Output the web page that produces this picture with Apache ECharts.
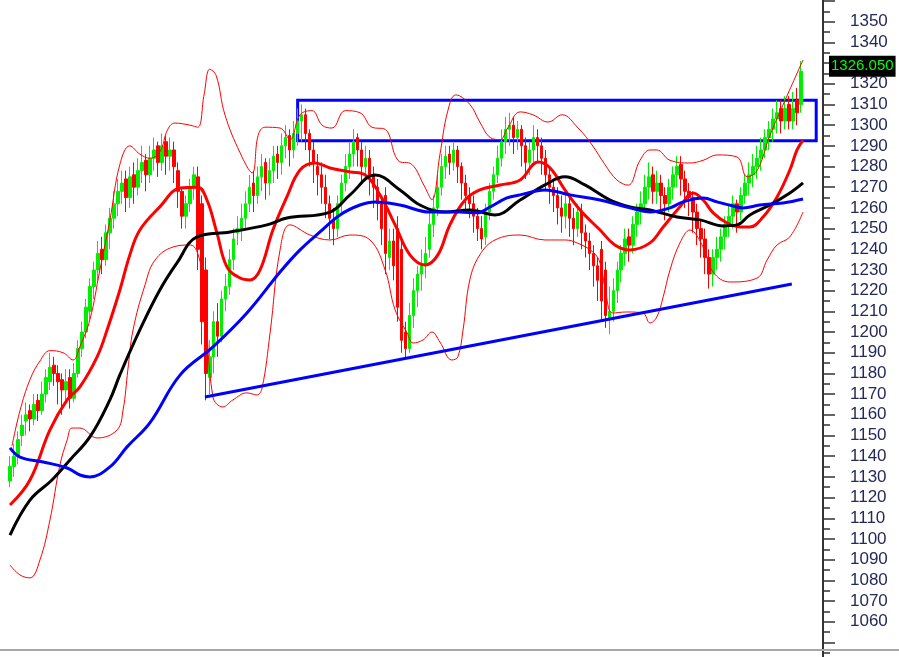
<!DOCTYPE html>
<html>
<head>
<meta charset="utf-8">
<script src="https://cdn.jsdelivr.net/npm/echarts@6/dist/echarts.min.js"></script>
<style>
html,body{margin:0;padding:0;background:#fff;overflow:hidden;width:899px;height:657px;}
#chart{position:absolute;left:0;top:-20px;width:899px;height:700px;}
</style>
</head>
<body>
<div id="chart"></div>
<script>
// ---- data ----
// candles: [open, close, low, high]
const candles = [
[1128,1135,1125,1140],[1135,1140,1130,1146],[1140,1148,1136,1152],[1150,1155,1145,1160],[1157,1160,1150,1166],
[1162,1158,1152,1165],[1158,1165,1155,1170],[1167,1162,1157,1170],[1162,1170,1160,1176],[1170,1178,1166,1182],
[1176,1183,1172,1190],[1184,1180,1174,1188],[1180,1176,1165,1184],[1177,1172,1160,1180],[1172,1176,1166,1182],
[1178,1168,1163,1182],[1168,1180,1166,1185],[1180,1192,1178,1196],[1192,1200,1188,1205],[1200,1212,1197,1216],
[1210,1222,1206,1226],[1222,1230,1216,1234],[1230,1238,1225,1244],[1240,1235,1228,1246],[1235,1248,1232,1252],
[1248,1255,1240,1260],[1255,1262,1250,1268],[1262,1268,1256,1274],[1268,1272,1262,1278],[1274,1265,1258,1278],
[1265,1275,1260,1280],[1276,1270,1262,1282],[1270,1278,1266,1284],[1278,1282,1272,1290],[1283,1276,1268,1286],
[1276,1284,1272,1290],[1284,1288,1278,1294],[1290,1282,1275,1292],[1282,1290,1278,1296],[1292,1285,1276,1295],
[1285,1288,1278,1294],[1288,1280,1272,1292],[1278,1268,1260,1282],[1268,1256,1250,1270],[1256,1262,1250,1266],
[1262,1270,1258,1274],[1270,1276,1264,1280],[1275,1240,1230,1280],[1262,1205,1194,1266],[1230,1180,1167,1236],
[1178,1188,1170,1196],[1188,1205,1180,1210],[1205,1198,1188,1214],[1198,1216,1195,1220],[1216,1222,1210,1228],
[1222,1235,1218,1240],[1235,1245,1230,1250],[1248,1250,1242,1256],[1250,1255,1244,1262],[1255,1262,1250,1268],
[1262,1270,1258,1276],[1272,1266,1258,1278],[1266,1275,1262,1280],[1275,1280,1268,1286],[1282,1272,1264,1284],
[1272,1278,1266,1284],[1278,1285,1272,1290],[1286,1282,1274,1290],[1282,1290,1276,1296],[1290,1294,1284,1300],
[1295,1288,1280,1298],[1288,1296,1284,1302],[1296,1302,1290,1308],[1302,1305,1292,1310],[1305,1296,1288,1308],
[1296,1288,1280,1298],[1288,1282,1272,1292],[1280,1276,1266,1286],[1276,1270,1262,1282],[1270,1262,1255,1276],
[1262,1255,1245,1266],[1254,1250,1242,1260],[1250,1262,1246,1266],[1262,1272,1258,1276],[1272,1280,1268,1286],
[1280,1286,1274,1292],[1286,1292,1280,1298],[1294,1288,1280,1296],[1288,1280,1272,1292],[1280,1284,1274,1290],
[1284,1276,1266,1288],[1276,1270,1260,1280],[1270,1262,1254,1274],[1262,1250,1242,1266],[1266,1238,1228,1270],
[1236,1244,1230,1250],[1244,1232,1225,1250],[1250,1212,1205,1256],[1240,1196,1190,1244],[1200,1192,1187,1205],
[1192,1208,1190,1214],[1208,1220,1202,1226],[1220,1228,1212,1232],[1228,1232,1220,1240],[1232,1238,1226,1246],
[1240,1252,1236,1258],[1252,1260,1246,1266],[1260,1270,1256,1276],[1270,1280,1266,1286],[1280,1285,1274,1290],
[1286,1282,1276,1290],[1282,1288,1278,1292],[1288,1280,1272,1290],[1280,1272,1264,1282],[1272,1266,1258,1276],
[1266,1262,1255,1270],[1262,1256,1248,1266],[1256,1250,1244,1260],[1250,1245,1240,1256],[1246,1258,1242,1262],
[1258,1268,1254,1272],[1268,1276,1264,1280],[1276,1284,1272,1290],[1284,1292,1280,1298],[1292,1298,1286,1304],
[1298,1300,1290,1306],[1300,1294,1286,1304],[1294,1298,1288,1302],[1298,1290,1280,1300],[1290,1282,1274,1294],
[1282,1288,1276,1292],[1288,1294,1282,1300],[1294,1290,1282,1298],[1290,1284,1276,1294],[1284,1276,1268,1288],
[1276,1270,1262,1280],[1270,1266,1258,1274],[1266,1260,1252,1270],[1260,1256,1248,1266],[1256,1262,1250,1268],
[1262,1255,1246,1266],[1255,1250,1242,1260],[1250,1258,1246,1262],[1258,1248,1240,1262],[1248,1244,1236,1252],
[1244,1238,1230,1248],[1238,1232,1222,1242],[1232,1225,1215,1236],[1240,1215,1205,1244],[1230,1208,1202,1234],
[1206,1210,1199,1222],[1210,1220,1205,1226],[1220,1230,1214,1234],[1230,1238,1224,1242],[1238,1245,1232,1250],
[1246,1242,1234,1250],[1242,1252,1238,1256],[1252,1258,1246,1262],[1258,1262,1252,1268],[1262,1270,1258,1276],
[1270,1275,1264,1282],[1276,1268,1262,1280],[1268,1272,1262,1278],[1272,1266,1258,1276],[1266,1262,1254,1270],
[1262,1270,1258,1274],[1270,1276,1264,1280],[1276,1280,1270,1285],[1281,1274,1266,1285],[1274,1268,1260,1278],
[1268,1265,1256,1272],[1265,1258,1248,1268],[1258,1250,1242,1262],[1250,1245,1236,1254],[1245,1236,1228,1250],
[1236,1228,1221,1240],[1228,1236,1222,1240],[1236,1240,1230,1246],[1240,1246,1234,1250],[1246,1252,1240,1256],
[1252,1256,1246,1262],[1256,1262,1250,1266],[1262,1258,1248,1264],[1258,1266,1254,1270],[1266,1272,1262,1276],
[1272,1276,1266,1282],[1276,1280,1270,1286],[1280,1284,1274,1290],[1284,1288,1278,1294],[1288,1294,1284,1298],
[1294,1298,1288,1302],[1298,1303,1292,1308],[1303,1306,1296,1312],[1308,1302,1296,1312],[1302,1308,1298,1314],
[1310,1302,1298,1314],[1302,1308,1298,1316],[1312,1306,1300,1318],[1310,1326,1306,1331]
];
const slotCount = 204; // bar slots on the time axis (last few empty)
const categories = Array.from({length: slotCount}, (_, i) => String(i));

// moving averages: [bar index, value]
const maFast = [[0,1116.4],[5,1128.5],[10,1152.7],[14.3,1167.2],[17.5,1173.5],[21.8,1188],[24.3,1201],[27.5,1220.3],[30,1237.3],[32.5,1249.3],[37.5,1260.5],[42.6,1269.6],[47,1270],[49.3,1263.8],[51.8,1247.9],[54.3,1231.5],[57.6,1226.1],[60.1,1225.2],[62.6,1230],[65.8,1249.3],[69.3,1265.3],[72.6,1278.3],[76.3,1281.7],[80.1,1279.3],[85.1,1277.4],[88.9,1275.9],[92.6,1266.3],[96.4,1251.8],[100.1,1237.3],[103.9,1232.4],[107.1,1237.3],[110.1,1251.8],[113.9,1263.8],[117.6,1268.7],[122.7,1271.1],[127.7,1273.5],[132.2,1282.2],[135.2,1279.3],[138.9,1268.7],[142.7,1259],[147.7,1249.3],[151.4,1242.1],[155.2,1239.7],[160.2,1243.1],[163.5,1250.8],[167.7,1260.5],[171,1267.2],[173.5,1263.8],[176,1257.6],[179.5,1252.7],[182.7,1250.8],[185.2,1250.8],[188.5,1255.6],[192,1265.3],[195.2,1278.3],[197,1288],[198.5,1292.8]];
const maMid = [[0,1101.9],[5,1118.8],[10.5,1128.5],[15,1138.2],[20,1149.3],[25,1167.2],[27.5,1179.3],[32.5,1201],[37.5,1220.3],[41.8,1233.4],[46.8,1246],[55.1,1248.4],[64.3,1251.8],[69.3,1255.1],[80.1,1258],[85.1,1266.3],[91.4,1275.9],[97.6,1268.7],[102.6,1261.4],[108.9,1258],[115.1,1259],[121.4,1256.6],[127.7,1263.8],[133.9,1271.1],[138.9,1275],[143.9,1271.1],[150.2,1263.8],[155.2,1260.5],[160.2,1259],[167,1255.6],[172.7,1254.2],[178.5,1251.3],[182,1251.8],[185.2,1256.6],[190.2,1261.4],[195.2,1267.2],[198.5,1272.1]];
const maSlow = [[0,1144],[2.5,1139.6],[8.3,1137.2],[14.3,1134.3],[17.5,1130.9],[20,1130],[25,1134.8],[29.3,1144.5],[35,1156.1],[42.6,1179.3],[50.8,1192.8],[59.3,1209.2],[67.6,1229],[72.6,1239.7],[77.6,1248.4],[82.6,1256.6],[87.6,1261.4],[91.4,1262.9],[97.6,1261.4],[105.1,1258],[112.6,1258],[116.9,1257.6],[120.2,1260.5],[124.4,1264.8],[127.7,1266.3],[133.9,1268.7],[140.2,1266.3],[147.7,1263.8],[155.2,1260],[160.2,1258],[165.2,1260],[168.5,1262.9],[173.5,1264.8],[177,1262.9],[181,1260.9],[183.5,1260],[187.7,1261.4],[193.5,1262.4],[198.5,1264.3]];
const bandUpper = [[0.5,1145],[2.5,1162],[5,1177],[7.5,1186],[10,1191],[13.3,1190],[15.8,1186.5],[17.5,1193],[20,1206],[22.5,1230],[25,1254],[27.5,1281],[30,1290],[32.5,1286],[35,1284],[37.5,1287],[39.5,1298],[41.3,1301],[45,1300],[47,1299],[48.6,1315],[50,1327],[51.6,1324],[53.8,1305],[57.6,1286.6],[60.6,1277],[62.1,1295],[63.8,1299],[67.6,1298.6],[70.1,1293],[72.6,1305],[75.6,1307],[78.1,1300],[80.6,1298.6],[83.9,1307],[87.6,1306],[90.6,1299],[93.9,1298],[97.1,1283],[100.6,1281],[103.6,1271],[105.6,1264],[107.6,1285.6],[109.6,1307],[111.6,1314.6],[115.1,1310],[117.6,1301.5],[120.2,1294],[122.7,1293],[124.4,1298],[127.7,1306.4],[130.9,1305],[134.7,1301.5],[138.2,1305],[142.2,1298.6],[145.7,1290.4],[148.9,1281],[151.9,1273.5],[154.7,1271],[157.7,1283],[160.2,1288],[161.9,1288],[165.2,1283],[170.2,1281.7],[173.5,1283],[177,1285.6],[182,1284.6],[184.5,1275],[187,1278],[190.2,1295],[194,1312],[198.5,1331.5]];
const bandLower = [[0,1087.4],[2.5,1082.6],[5,1081.2],[7.5,1089.9],[10,1109.2],[12.5,1135.8],[14.3,1147.8],[15.5,1153.6],[17.5,1153.6],[21.8,1148.8],[26.8,1152.7],[28.3,1162.3],[29.5,1181.7],[30.8,1201],[33.8,1222.8],[36.3,1234.8],[40.8,1241.1],[45.1,1242.1],[47.6,1233.9],[48.8,1215.5],[50.8,1168.6],[53.3,1163.8],[55.8,1167.2],[59.3,1170.6],[61.8,1169.6],[63.1,1173],[65.1,1199.6],[67.6,1239.7],[70.1,1251.8],[75.1,1246.9],[80.1,1244.5],[85.1,1246.9],[90.1,1244.5],[93.9,1230],[96.4,1210.7],[99.4,1199.6],[100.9,1194.7],[103.4,1196.2],[105.6,1200],[107.6,1195.2],[110.6,1186.5],[112.1,1188],[113.4,1201],[115.1,1225.2],[117.6,1237.3],[121.4,1244.5],[127.7,1246.9],[133.9,1244.5],[138.9,1244.5],[141.9,1243.1],[145.9,1238.7],[147.7,1233.4],[148.9,1221.8],[150.9,1209.2],[154.4,1209.7],[158.4,1209.2],[160.2,1204.4],[161.9,1207.3],[163.5,1217],[165.2,1230],[167.7,1243.1],[170.2,1249.3],[173.5,1241.1],[176,1229],[180.2,1224.2],[187,1226.1],[189.5,1234.8],[192,1242.1],[195.2,1246],[198.5,1258]];
// support trend line and resistance box
const trendLine = [[48.8,1168.6],[195.7,1223.2]];
const boxX = [72, 201.8];
const boxY = [1292.4, 1312];
// axis ticks
const yMin = 1040, yMax = 1370, yStep = 10;
const labelMin = 1060, labelMax = 1350;
const lastPrice = 1326.05;
const lastPriceText = '1326.050';

const chart = echarts.init(document.getElementById('chart'), null, {renderer: 'canvas'});
const thinLine = (name, data) => ({
  name, type: 'line', xAxisIndex: 1, yAxisIndex: 0, data, smooth: 0.4, symbol: 'none',
  lineStyle: {color: '#ff0000', width: 1}, z: 3, silent: true
});
const maLine = (name, data, color) => ({
  name, type: 'line', xAxisIndex: 1, yAxisIndex: 0, data, smooth: 0.4, symbol: 'none',
  lineStyle: {color, width: 3}, z: 4, silent: true
});

chart.setOption({
  animation: false,
  backgroundColor: '#ffffff',
  grid: {left: 8, right: 76, top: 0.3, height: 682.8, containLabel: false},
  xAxis: [
    {type: 'category', data: categories, show: false, boundaryGap: true},
    {type: 'value', min: -0.5, max: slotCount - 0.5, show: false}
  ],
  yAxis: [{
    type: 'value', position: 'right', min: yMin, max: yMax, interval: yStep,
    axisLine: {show: true, onZero: false, lineStyle: {color: '#333333', width: 2}},
    axisTick: {show: true, inside: false, length: 12, lineStyle: {color: '#333333', width: 1.5}},
    minorTick: {show: true, splitNumber: 2, length: 7, lineStyle: {color: '#333333', width: 1.5}},
    splitLine: {show: false},
    axisLabel: {
      show: true, margin: 27, color: '#232a5a', fontSize: 17, fontFamily: 'Liberation Sans, Arial, sans-serif',
      formatter: v => (v < labelMin || v > labelMax) ? '' : String(v)
    }
  }],
  graphic: [{
    type: 'line', shape: {x1: 0, y1: 670, x2: 899, y2: 670},
    style: {stroke: '#a8a8a8', lineWidth: 2}, z: 10
  }],
  series: [
    {
      name: 'price', type: 'candlestick', xAxisIndex: 0, yAxisIndex: 0,
      data: candles, barWidth: 3, z: 2,
      itemStyle: {color: '#00ee00', color0: '#ff0000', borderColor: '#00ee00', borderColor0: '#ff0000', borderWidth: 1},
      markLine: {
        silent: true, symbol: ['none', 'none'],
        lineStyle: {color: 'rgba(0,0,0,0)', width: 0},
        data: [{yAxis: lastPrice}],
        label: {
          show: true, position: 'end', formatter: lastPriceText,
          backgroundColor: '#000000', color: '#00ff00', fontSize: 15,
          fontFamily: 'Liberation Sans, Arial, sans-serif',
          padding: [3, 2, 3, 2], distance: 6, offset: [0, -5]
        }
      }
    },
    thinLine('upper band', bandUpper),
    thinLine('lower band', bandLower),
    maLine('fast MA', maFast, '#ff0000'),
    maLine('mid MA', maMid, '#000000'),
    maLine('slow MA', maSlow, '#0000ff'),
    {
      name: 'trend', type: 'line', xAxisIndex: 1, yAxisIndex: 0, data: trendLine, symbol: 'none',
      lineStyle: {color: '#0000ff', width: 3}, z: 6, silent: true,
      markArea: {
        silent: true,
        itemStyle: {color: 'rgba(0,0,0,0)', borderColor: '#0000ff', borderWidth: 3},
        data: [[{coord: [boxX[0], boxY[1]]}, {coord: [boxX[1], boxY[0]]}]]
      }
    }
  ]
});
</script>
</body>
</html>
